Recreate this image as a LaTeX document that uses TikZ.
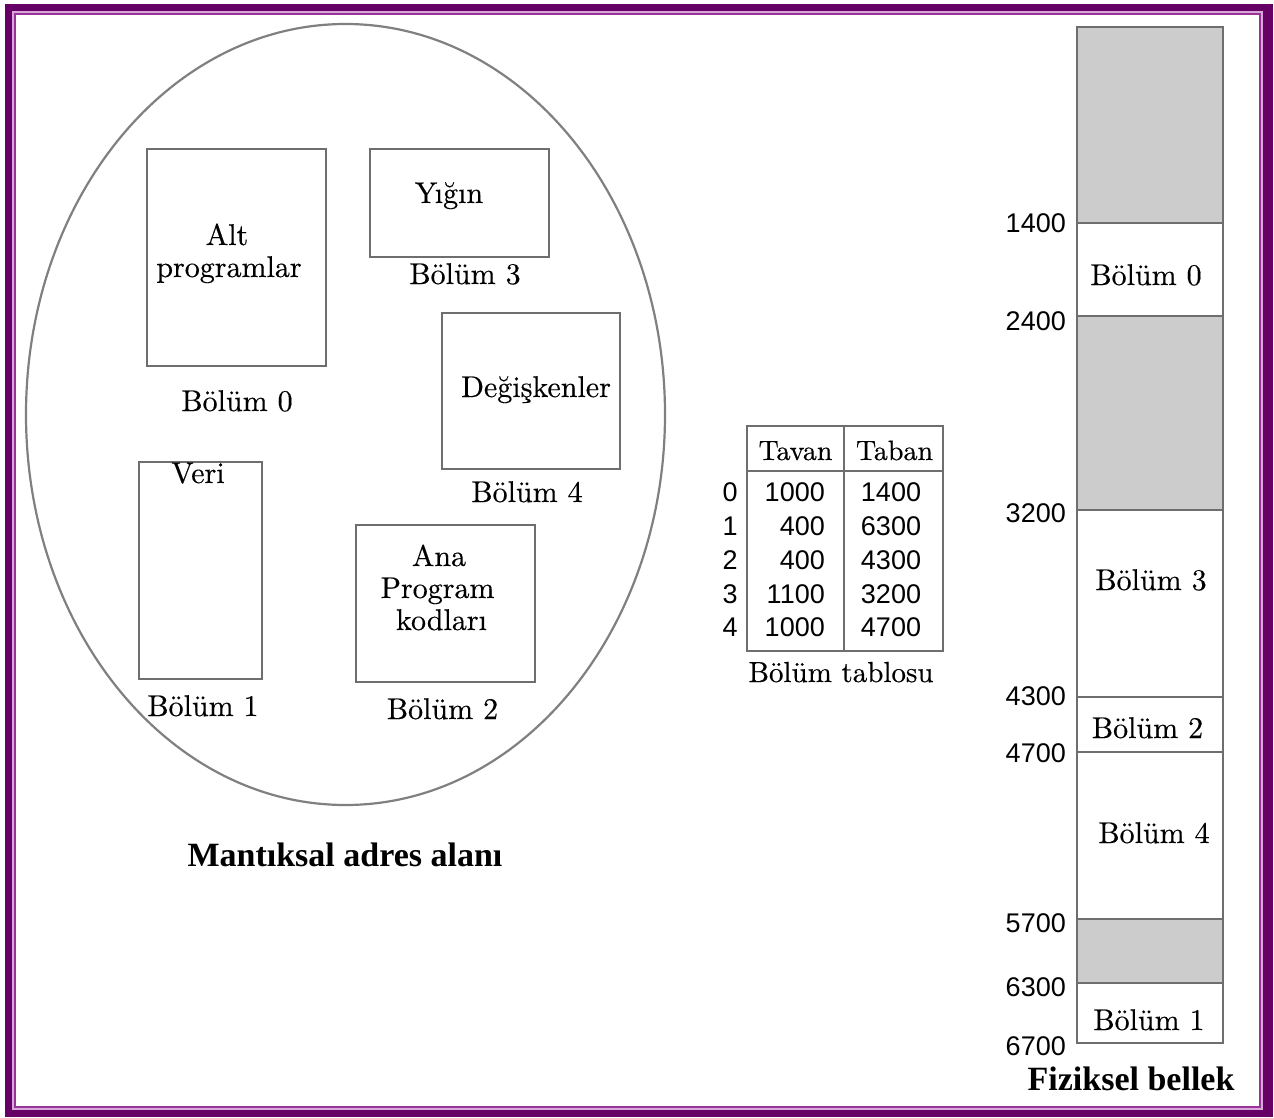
\documentclass[tikz,border=0pt]{standalone}
\usepackage{fontspec}
\newfontfamily\numfont{Liberation Sans}
\newfontfamily\titlefont{Liberation Serif}
\newfontfamily\lblfont[FakeBold=0.35]{lmroman10-regular.otf}
\definecolor{framedark}{HTML}{660066}
\definecolor{framelight}{HTML}{D8A8D8}
\definecolor{framemid}{HTML}{993399}
\definecolor{segline}{HTML}{6E6E6E}
\definecolor{segfill}{HTML}{CCCCCC}
\begin{document}
\begin{tikzpicture}[x=1pt,y=-1pt,
  lbl/.style={anchor=base,inner sep=0pt,font=\lblfont\fontsize{30}{36}\selectfont},
  hdr/.style={anchor=base,inner sep=0pt,font=\lblfont\fontsize{28}{33}\selectfont},
  num/.style={anchor=base,inner sep=0pt,font=\numfont\fontsize{27}{32}\selectfont},
  addr/.style={anchor=base east,inner sep=0pt,font=\numfont\fontsize{27}{32}\selectfont},
  ttl/.style={anchor=base,inner sep=0pt,font=\titlefont\bfseries\fontsize{34}{40}\selectfont},
  boxline/.style={draw=segline,line width=1.6pt},
  segbox/.style={draw=segline,line width=1.6pt},
  emptyseg/.style={draw=segline,line width=1.6pt,fill=segfill}]
\useasboundingbox (0,0) rectangle (1274,1118);
\fill[white] (0,0) rectangle (1274,1118);
% frame
\fill[framedark] (5,4) rectangle (1273,1117);
\fill[framelight] (12,11) rectangle (1263,1110);
\fill[framemid] (14,13) rectangle (1261,1108);
\fill[white] (16,15) rectangle (1259,1106);
% logical address space
\draw[draw=gray,line width=2.2pt] (345.5,414.5) ellipse [x radius=319.5, y radius=390.5];
\draw[boxline] (147,149) rectangle (326,366);
\draw[boxline] (370,149) rectangle (549,257);
\draw[boxline] (442,313) rectangle (620,469);
\draw[boxline] (139,462) rectangle (262,679);
\draw[boxline] (356,525) rectangle (535,682);
\node[lbl] (alt) at (227,245) {Alt};
\node[lbl] (prog) at (229,277) {programlar};
\node[lbl] (b0) at (237,411) {Bölüm 0};
\node[lbl] (yigin) at (449,203) {Yığın};
\node[lbl] (b3) at (465,284) {Bölüm 3};
\node[lbl] (degisken) at (536,397) {Değişkenler};
\node[lbl] (b4) at (527,502) {Bölüm 4};
\node[lbl] (veri) at (198,483) {Veri};
\node[lbl] (b1) at (203,716) {Bölüm 1};
\node[lbl] (ana) at (439,566) {Ana};
\node[lbl] (program) at (437.5,598) {Program};
\node[lbl] (kodlari) at (441.5,630) {kodları};
\node[lbl] (b2) at (442.5,719) {Bölüm 2};
\node[ttl] (mantiksal) at (345,866) {Mantıksal adres alanı};
% segment table
\draw[boxline] (747,426) rectangle (943,651);
\draw[boxline] (844,426) -- (844,651);
\draw[boxline] (747,471) -- (943,471);
\node[hdr] (tavan) at (795.5,460) {Tavan};
\node[hdr] (taban) at (894.5,460) {Taban};
\foreach \i/\yy/\tv/\tb in {0/501/1000/1400,1/535/400/6300,2/569/400/4300,3/603/1100/3200,4/636/1000/4700}{
  \node[num] (r\i) at (730,\yy) {\i};
  \node[num,anchor=base east] (tv\i) at (825,\yy) {\tv};
  \node[num] (tb\i) at (891,\yy) {\tb};
}
\node[lbl,font=\lblfont\fontsize{29}{34}\selectfont] (tablo) at (841,682) {Bölüm tablosu};
% physical memory
\draw[emptyseg] (1077,27) rectangle (1223,223);
\draw[segbox] (1077,223) rectangle (1223,316);
\draw[emptyseg] (1077,316) rectangle (1223,510);
\draw[segbox] (1077,510) rectangle (1223,697);
\draw[segbox] (1077,697) rectangle (1223,752);
\draw[segbox] (1077,752) rectangle (1223,919);
\draw[emptyseg] (1077,919) rectangle (1223,983);
\draw[segbox] (1077,983) rectangle (1223,1043);
\node[lbl] (m0) at (1146,285) {Bölüm 0};
\node[lbl] (m3) at (1151,590) {Bölüm 3};
\node[lbl] (m2) at (1147.5,738) {Bölüm 2};
\node[lbl] (m4) at (1154,843) {Bölüm 4};
\node[lbl] (m1) at (1149,1030) {Bölüm 1};
\node[addr] (a1400) at (1066,233) {1400};
\node[addr] (a2400) at (1066,330) {2400};
\node[addr] (a3200) at (1066,522) {3200};
\node[addr] (a4300) at (1066,705) {4300};
\node[addr] (a4700) at (1066,762) {4700};
\node[addr] (a5700) at (1066,932) {5700};
\node[addr] (a6300) at (1066,996) {6300};
\node[addr] (a6700) at (1066,1055) {6700};
\node[ttl] (fiziksel) at (1131,1090) {Fiziksel bellek};
\end{tikzpicture}
\end{document}
